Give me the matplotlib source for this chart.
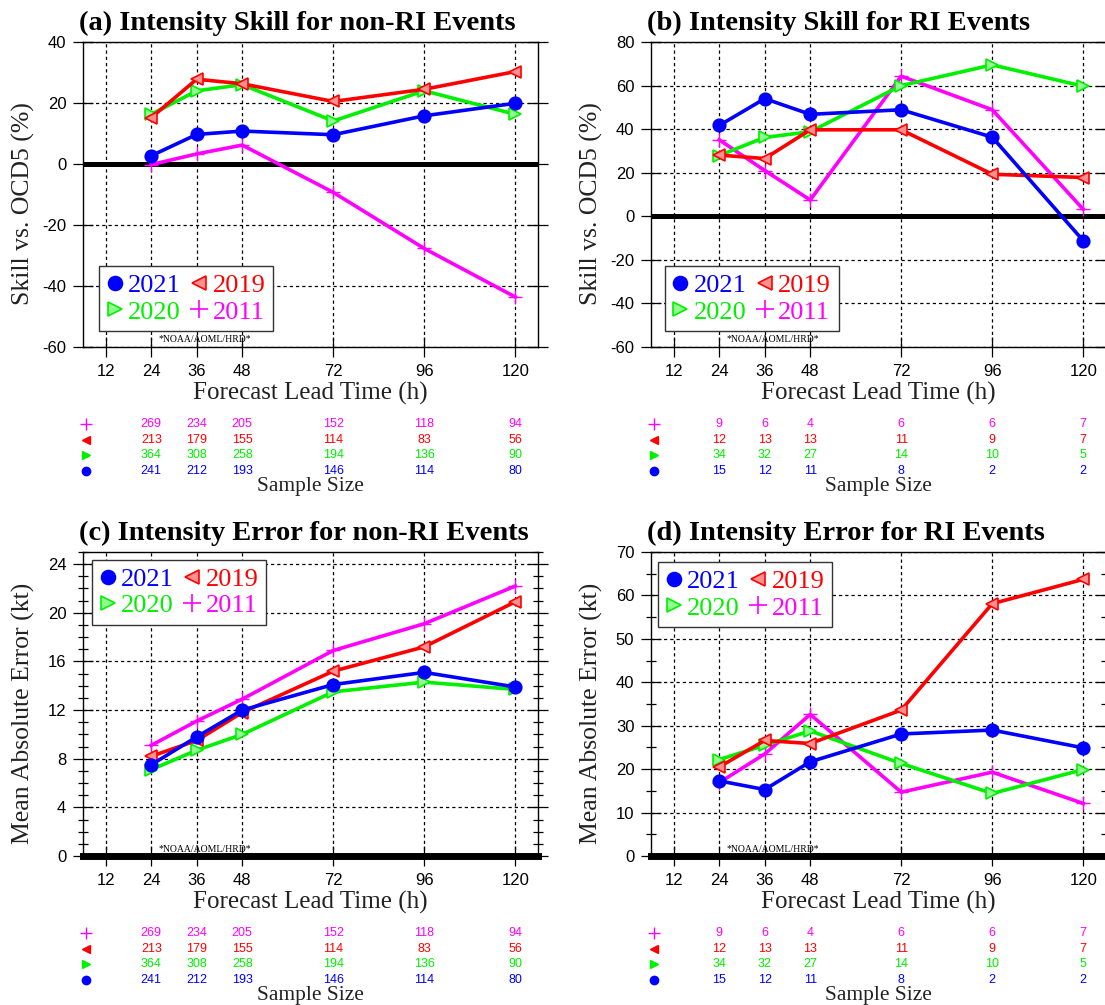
import matplotlib
matplotlib.use('Agg')
import matplotlib.pyplot as plt
from matplotlib import transforms
from matplotlib.lines import Line2D
from matplotlib.ticker import MultipleLocator

plt.rcParams['axes.unicode_minus'] = False
SERIF = 'Liberation Serif'
SANS = 'Liberation Sans'

# forecast lead times (h)
lead_times = [24, 36, 48, 72, 96, 120]
tick_hours = [12, 24, 36, 48, 72, 96, 120]
years = ['2021', '2019', '2020', '2011']

# (a) intensity skill, non-RI events (%)
skill_nonri = {
    '2021': [2.7, 9.7, 10.8, 9.6, 15.8, 19.9],
    '2019': [15.2, 27.8, 26.3, 20.5, 24.5, 30.3],
    '2020': [16.3, 24.0, 26.0, 14.1, 24.0, 16.3],
    '2011': [-0.2, 3.3, 6.2, -9.3, -27.7, -43.6],
}
# (b) intensity skill, RI events (%)
skill_ri = {
    '2021': [41.7, 54.0, 46.8, 48.9, 36.3, -11.2],
    '2019': [28.1, 26.5, 39.7, 39.7, 19.3, 17.8],
    '2020': [27.9, 36.2, 38.8, 60.0, 69.5, 59.7],
    '2011': [35.1, 21.0, 7.5, 64.3, 48.9, 3.2],
}
# (c) mean absolute error, non-RI events (kt)
mae_nonri = {
    '2021': [7.5, 9.8, 12.0, 14.1, 15.1, 13.9],
    '2019': [8.2, 9.5, 11.8, 15.2, 17.2, 20.9],
    '2020': [7.1, 8.7, 10.0, 13.5, 14.3, 13.7],
    '2011': [9.1, 11.1, 12.9, 16.9, 19.1, 22.2],
}
# (d) mean absolute error, RI events (kt)
mae_ri = {
    '2021': [17.3, 15.3, 21.7, 28.1, 29.0, 24.9],
    '2019': [20.5, 26.6, 25.9, 33.6, 58.1, 63.7],
    '2020': [22.2, 25.5, 28.8, 21.3, 14.4, 19.9],
    '2011': [16.9, 23.5, 32.6, 14.7, 19.3, 12.1],
}
# sample sizes
ss_nonri = {
    '2011': [269, 234, 205, 152, 118, 94],
    '2019': [213, 179, 155, 114, 83, 56],
    '2020': [364, 308, 258, 194, 136, 90],
    '2021': [241, 212, 193, 146, 114, 80],
}
ss_ri = {
    '2011': [9, 6, 4, 6, 6, 7],
    '2019': [12, 13, 13, 11, 9, 7],
    '2020': [34, 32, 27, 14, 10, 5],
    '2021': [15, 12, 11, 8, 2, 2],
}

colors = {'2021': '#0000ff', '2019': '#ff0000', '2020': '#00f000', '2011': '#ff00ff'}
faces = {'2021': '#0000ff', '2019': '#ff9090', '2020': '#90ff90', '2011': '#ff00ff'}
markers = {'2021': 'o', '2019': '<', '2020': '>', '2011': '+'}
msizes = {'2021': 9, '2019': 9, '2020': 9, '2011': 10}

W, H = 1105, 1005
fig = plt.figure(figsize=(W / 100, H / 100), dpi=100)


def add_panel(left, top, width, height):
    return fig.add_axes([left / W, 1 - (top + height) / H, width / W, height / H])


panels = [
    dict(box=(83, 42, 455, 305), data=skill_nonri, ss=ss_nonri, ylim=(-60, 40), step=20, minor=None,
         title='(a) Intensity Skill for non-RI Events', ylabel='Skill vs. OCD5 (%)',
         leg=dict(loc='lower left', bbox_to_anchor=(0.035, 0.051))),
    dict(box=(651, 42, 455, 305), data=skill_ri, ss=ss_ri, ylim=(-60, 80), step=20, minor=None,
         title='(b) Intensity Skill for RI Events', ylabel='Skill vs. OCD5 (%)',
         leg=dict(loc='lower left', bbox_to_anchor=(0.03, 0.051))),
    dict(box=(83, 552, 455, 304), data=mae_nonri, ss=ss_nonri, ylim=(0, 25), step=4, minor=1,
         title='(c) Intensity Error for non-RI Events', ylabel='Mean Absolute Error (kt)',
         leg=dict(loc='upper left', bbox_to_anchor=(0.02, 0.974))),
    dict(box=(651, 552, 455, 304), data=mae_ri, ss=ss_ri, ylim=(0, 70), step=10, minor=5,
         title='(d) Intensity Error for RI Events', ylabel='Mean Absolute Error (kt)',
         leg=dict(loc='upper left', bbox_to_anchor=(0.015, 0.967))),
]

for p in panels:
    ax = add_panel(*p['box'])
    hpx = p['box'][3]
    ax.set_xlim(6, 126)
    ax.set_ylim(*p['ylim'])
    ax.set_xticks(tick_hours)
    lo, hi = p['ylim']
    ax.set_yticks(list(range(lo, hi + 1, p['step'])))
    if p['minor']:
        ax.yaxis.set_minor_locator(MultipleLocator(p['minor']))
        ax.tick_params(axis='y', which='minor', direction='inout', length=7, width=0.9,
                       left=True, right=True)
    ax.tick_params(axis='both', which='major', direction='inout', length=14, width=0.9,
                   labelsize=12, pad=5)
    ax.tick_params(axis='y', which='major', right=True)
    for lab in ax.get_xticklabels() + ax.get_yticklabels():
        lab.set_fontfamily(SANS)
    for s in ax.spines.values():
        s.set_linewidth(1.0)
    ax.grid(True, which='major', color='k', linestyle=(0, (2.6, 2.4)), linewidth=0.9)
    ax.set_axisbelow(True)

    if lo < 0:
        ax.axhline(0, color='k', lw=3.6, zorder=2)
    else:
        ax.axhline(0, color='k', lw=5, zorder=4, clip_on=False)

    for yr in ['2011', '2020', '2019', '2021']:
        ax.plot(lead_times, p['data'][yr], color=colors[yr], lw=2.6, marker=markers[yr],
                ms=msizes[yr], mfc=faces[yr], mec=colors[yr], mew=1.2 if yr != '2011' else 1.0,
                zorder=3, clip_on=False)

    # legend with coloured text
    order = ['2021', '2020', '2019', '2011']
    handles = [Line2D([], [], linestyle='none', marker=markers[y], color=colors[y], mfc=faces[y],
                      mec=colors[y], ms=10 if y != '2011' else 13, mew=1.2) for y in order]
    leg = ax.legend(handles, order, ncol=2, borderaxespad=0, fancybox=False, framealpha=1,
                    edgecolor='#333333', handlelength=0.6, handletextpad=0.2, columnspacing=0.4,
                    borderpad=0.3, labelspacing=0.1,
                    prop={'family': SERIF, 'size': 19}, **p['leg'])
    leg.get_frame().set_linewidth(1.0)
    leg.set_zorder(6)
    for txt, y in zip(leg.get_texts(), order):
        txt.set_color(colors[y])

    ax.text(25.8, 0.023, '*NOAA/AOML/HRD*', transform=transforms.blended_transform_factory(
        ax.transData, ax.transAxes), fontsize=7, family=SERIF, ha='left', va='center', zorder=7)

    # titles and labels
    ax.text(-0.008, 1.0 + 6 / hpx, p['title'], transform=ax.transAxes, fontsize=20.5,
            fontweight='bold', family=SERIF, ha='left', va='bottom')
    ax.text(-0.13, 0.47, p['ylabel'], transform=ax.transAxes, rotation=90, fontsize=18.5,
            family=SERIF, ha='center', va='center', color='#222222')
    ax.text(0.5, -46 / hpx, 'Forecast Lead Time (h)', transform=ax.transAxes, fontsize=18,
            family=SERIF, ha='center', va='center', color='#222222')

    # sample size table
    tr = transforms.blended_transform_factory(ax.transData, ax.transAxes)
    for off, yr in zip([77, 93, 108, 124], ['2011', '2019', '2020', '2021']):
        yy = -off / hpx
        ax.plot([6.7], [yy], transform=tr, marker=markers[yr], color=colors[yr], mfc=colors[yr],
                ms=6 if yr != '2011' else 8, mew=1.0, linestyle='none', clip_on=False)
        for x, n in zip(lead_times, p['ss'][yr]):
            ax.text(x, yy, str(n), transform=tr, fontsize=9, family=SANS, color=colors[yr],
                    ha='center', va='center')
    ax.text(0.5, -139 / hpx, 'Sample Size', transform=ax.transAxes, fontsize=15.5,
            family=SERIF, ha='center', va='center', color='#222222')

fig.savefig('out.png', dpi=100)
